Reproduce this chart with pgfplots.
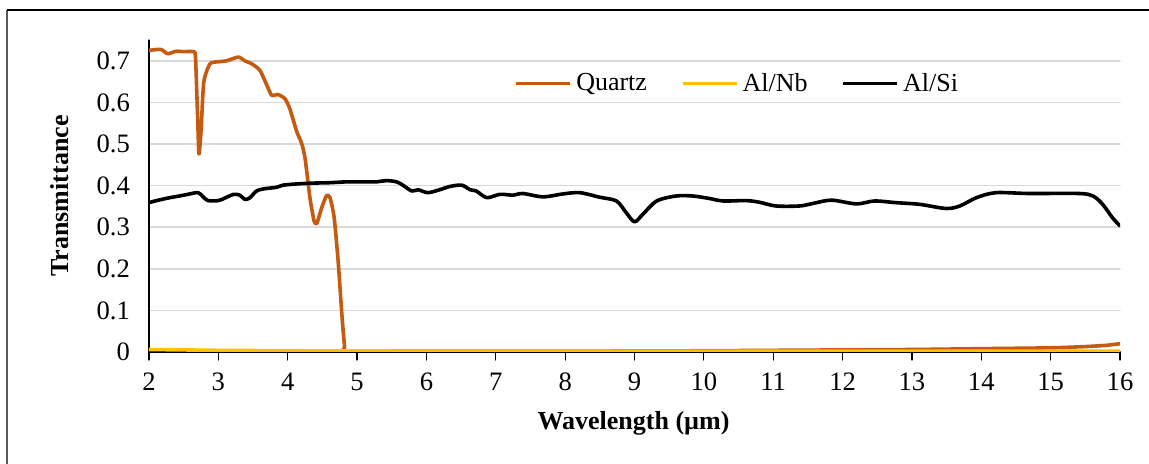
\documentclass[border=0pt]{standalone}
\usepackage{fontspec}
\setmainfont{Liberation Serif}
\usepackage{pgfplots}
\pgfplotsset{compat=1.18}
\definecolor{quartz}{HTML}{C55A11}
\definecolor{alnb}{HTML}{FFC000}
\definecolor{gridc}{HTML}{D9D9D9}
\begin{document}
\begin{tikzpicture}
\path[use as bounding box] (-74.5pt,-56pt) rectangle (500pt,176pt);
\begin{axis}[
  scale only axis,
  width=485.5pt, height=156pt,
  xmin=2, xmax=16, ymin=0, ymax=0.75,
  axis x line*=bottom, axis y line*=left,
  axis line style={black, line width=0.6pt, -},
  xtick={2,3,...,16},
  ytick={0,0.1,...,0.7},
  ymajorgrids, grid style={gridc, line width=0.8pt},
  tick align=outside,
  xtick style={black, line width=0.6pt},
  major tick length=4pt,
  ytick style={draw=none},
  /pgf/number format/assume math mode=true,
  yticklabel style={/pgf/number format/fixed, /pgf/number format/precision=1, font=\fontsize{13.3}{15}\selectfont, xshift=-2pt},
  xticklabel style={font=\fontsize{13.3}{15}\selectfont, yshift=-3pt},
  xlabel={\textbf{Wavelength (µm)}},
  ylabel={\textbf{Transmittance}},
  xlabel style={at={(axis description cs:0.499,-0.228)}, anchor=center, font=\fontsize{13}{15}\selectfont},
  ylabel style={at={(axis description cs:-0.092,0.5)}, anchor=center, font=\fontsize{13}{15}\selectfont},
  legend columns=3,
  legend style={draw=none, fill=none, at={(axis description cs:0.607,0.86)}, anchor=center,
    font=\fontsize{13}{15}\selectfont, /tikz/every even column/.append style={column sep=15pt}},
  legend image code/.code={\draw[#1] (0pt,0pt) -- (27pt,0pt);},
  line join=round, line cap=round,
]
\addplot[quartz, line width=1.8pt, smooth, tension=0.35] coordinates {
(2.00,0.725) (2.10,0.727) (2.18,0.727) (2.27,0.717) (2.39,0.723) (2.50,0.722) (2.64,0.722) (2.67,0.71) (2.70,0.57) (2.72,0.476) (2.75,0.53) (2.79,0.649) (2.88,0.693) (3.02,0.698) (3.12,0.70) (3.29,0.709) (3.38,0.70) (3.48,0.693) (3.60,0.677) (3.70,0.641) (3.77,0.617) (3.86,0.619) (3.96,0.609) (4.03,0.585) (4.13,0.530) (4.20,0.502) (4.25,0.466) (4.32,0.371) (4.38,0.315) (4.42,0.309) (4.49,0.347) (4.56,0.376) (4.61,0.371) (4.67,0.323) (4.73,0.212) (4.78,0.092) (4.82,0.013) (4.85,0.002) (6,0.002) (8,0.002) (10,0.003) (11,0.004) (12,0.005) (13,0.006) (14,0.008) (15,0.010) (15.5,0.013) (15.8,0.016) (16,0.020)
};
\addlegendentry{Quartz}
\addplot[alnb, line width=1.8pt] coordinates {
(2,0.006) (3,0.004) (4,0.003) (6,0.002) (16,0.002)
};
\addlegendentry{Al/Nb}
\addplot[black, line width=1.8pt, smooth, tension=0.5] coordinates {
(2.00,0.359) (2.11,0.364) (2.30,0.371) (2.44,0.375) (2.59,0.380) (2.71,0.383) (2.78,0.373) (2.85,0.364) (3.00,0.364) (3.12,0.372) (3.22,0.379) (3.31,0.377) (3.38,0.367) (3.45,0.370) (3.55,0.387) (3.65,0.392) (3.84,0.396) (3.93,0.401) (4.13,0.404) (4.37,0.406) (4.61,0.407) (4.85,0.409) (5.09,0.409) (5.28,0.409) (5.42,0.412) (5.57,0.409) (5.66,0.401) (5.79,0.387) (5.88,0.390) (6.02,0.383) (6.19,0.390) (6.34,0.398) (6.51,0.401) (6.63,0.390) (6.72,0.387) (6.87,0.371) (7.06,0.379) (7.25,0.377) (7.39,0.381) (7.68,0.373) (7.97,0.380) (8.21,0.383) (8.50,0.372) (8.74,0.363) (8.88,0.335) (9.00,0.313) (9.12,0.331) (9.32,0.363) (9.60,0.375) (9.84,0.375) (10.08,0.369) (10.28,0.363) (10.61,0.364) (10.80,0.360) (11.04,0.351) (11.38,0.351) (11.57,0.357) (11.84,0.365) (12.20,0.356) (12.46,0.363) (12.77,0.359) (13.11,0.355) (13.49,0.345) (13.69,0.351) (13.93,0.371) (14.21,0.383) (14.69,0.381) (15.41,0.381) (15.61,0.375) (15.75,0.355) (15.89,0.323) (16.00,0.303)
};
\addlegendentry{Al/Si}
\end{axis}
\draw[black!65, line width=1pt] (-71pt,-56pt) -- (-71pt,171pt);
\draw[black, line width=1pt] (-71pt,171pt) -- (500pt,171pt);
\end{tikzpicture}
\end{document}
